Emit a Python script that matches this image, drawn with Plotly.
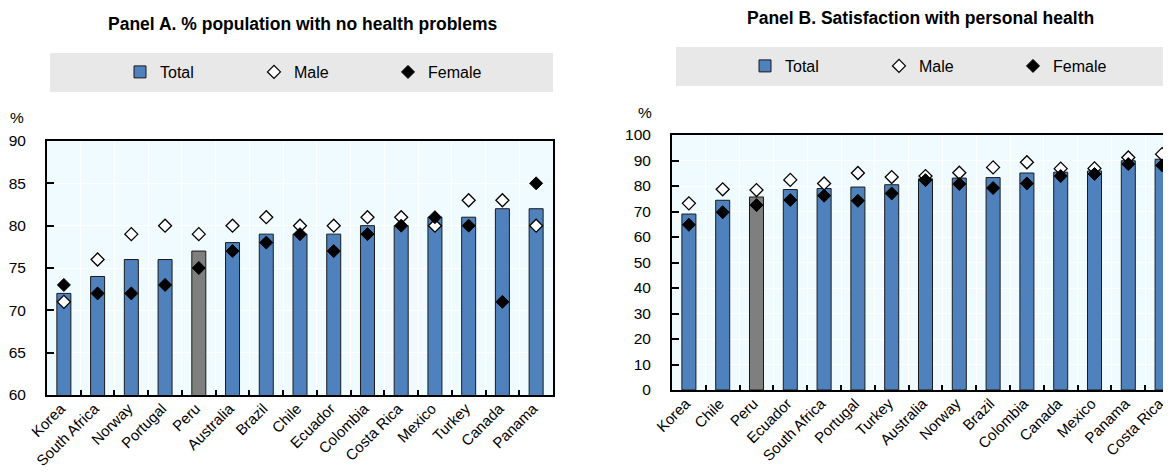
import plotly.graph_objects as go

# ---------------- data ----------------
countries_a = ["Korea", "South Africa", "Norway", "Portugal", "Peru", "Australia", "Brazil",
               "Chile", "Ecuador", "Colombia", "Costa Rica", "Mexico", "Turkey", "Canada", "Panama"]
total_a = [72, 74, 76, 76, 77, 78, 79, 79, 79, 80, 80, 81, 81, 82, 82]
male_a = [71, 76, 79, 80, 79, 80, 81, 80, 80, 81, 81, 80, 83, 83, 80]
female_a = [73, 72, 72, 73, 75, 77, 78, 79, 77, 79, 80, 81, 80, 71, 85]

countries_b = ["Korea", "Chile", "Peru", "Ecuador", "South Africa", "Portugal", "Turkey", "Australia",
               "Norway", "Brazil", "Colombia", "Canada", "Mexico", "Panama", "Costa Rica"]
total_b = [69.0, 74.4, 75.7, 78.6, 79.0, 79.6, 80.5, 82.8, 83.1, 83.3, 85.1, 85.4, 85.9, 89.9, 90.5]
male_b = [73.2, 78.7, 78.4, 82.4, 81.0, 85.1, 83.5, 83.9, 85.2, 87.3, 89.3, 86.8, 86.9, 91.2, 92.5]
female_b = [64.8, 69.7, 72.5, 74.5, 76.2, 74.2, 77.1, 82.3, 80.8, 79.2, 81.0, 83.9, 84.7, 88.6, 88.1]

title_a = "Panel A. % population with no health problems"
title_b = "Panel B. Satisfaction with personal health"
highlight = "Peru"

# ---------------- style ----------------
W, H = 1171, 473
OFF = 8  # page body margin offset
FONT = "Liberation Sans, Arial, sans-serif"
BLUE = "#4F81BD"
GREY = "#7F7F7F"
PLOTBG = "#F0FBFF"


def px_x(p):
    return (p - OFF) / W


def px_y(p):
    return 1 - (p - OFF) / H


fig = go.Figure()


def add_panel(cats, tot, male, fem, xa, ya, legend):
    colors = [GREY if c == highlight else BLUE for c in cats]
    fig.add_trace(go.Bar(x=cats, y=tot, name="Total",
                         marker=dict(color=colors, line=dict(color="#1a1a1a", width=1)),
                         xaxis=xa, yaxis=ya, legend=legend))
    fig.add_trace(go.Scatter(x=cats, y=male, name="Male", mode="markers",
                             marker=dict(symbol="diamond", size=10, color="white",
                                         line=dict(color="black", width=1.3)),
                             xaxis=xa, yaxis=ya, legend=legend))
    fig.add_trace(go.Scatter(x=cats, y=fem, name="Female", mode="markers",
                             marker=dict(symbol="diamond", size=10, color="black",
                                         line=dict(color="black", width=1)),
                             xaxis=xa, yaxis=ya, legend=legend))


add_panel(countries_a, total_a, male_a, female_a, "x", "y", "legend")
add_panel(countries_b, total_b, male_b, female_b, "x2", "y2", "legend2")

axis_common = dict(showline=True, linecolor="black", linewidth=2, gridcolor="white", gridwidth=1,
                   zeroline=False, automargin=False)
xfont = dict(family=FONT, size=15, color="black")
yfont = dict(family=FONT, size=15.5, color="black")
xcommon = dict(type="category", tickson="boundaries", ticks="inside", ticklen=5, tickcolor="black",
               tickwidth=1.5, tickangle=-45, mirror=True, showgrid=True, tickfont=xfont,
               ticklabelstandoff=-3, ticklabelshift=-3)
ycommon = dict(ticks="inside", ticklen=7, tickcolor="black", tickwidth=1.5, showgrid=True,
               ticklabelstandoff=16, tickfont=yfont)

fig.update_layout(
    width=W, height=H,
    margin=dict(l=0, r=0, t=0, b=0, autoexpand=False),
    paper_bgcolor="white",
    plot_bgcolor=PLOTBG,
    bargap=0.585,
    font=dict(family=FONT, color="black"),
    xaxis=dict(domain=[px_x(47), px_x(553)], anchor="y", range=[-0.5, 14.5], **xcommon, **axis_common),
    yaxis=dict(domain=[px_y(395), px_y(141)], anchor="x", range=[60, 90], dtick=5, mirror=True,
               **ycommon, **axis_common),
    xaxis2=dict(domain=[px_x(672), 1.0], anchor="y2", range=[-0.5, 14.5], **xcommon, **axis_common),
    yaxis2=dict(domain=[px_y(390), px_y(135)], anchor="x2", range=[0, 100], dtick=10, mirror=False,
                **ycommon, **axis_common),
    legend=dict(orientation="h", x=px_x(120), xanchor="left", y=px_y(72), yanchor="middle",
                bgcolor="rgba(0,0,0,0)", font=dict(family=FONT, size=16, color="black"),
                entrywidth=89, entrywidthmode="pixels", traceorder="normal"),
    legend2=dict(orientation="h", x=px_x(745), xanchor="left", y=px_y(66), yanchor="middle",
                 bgcolor="rgba(0,0,0,0)", font=dict(family=FONT, size=16, color="black"),
                 entrywidth=89, entrywidthmode="pixels", traceorder="normal"),
    shapes=[
        dict(type="rect", xref="paper", yref="paper", x0=px_x(50), x1=px_x(553), y0=px_y(92), y1=px_y(53),
             fillcolor="#E8E8E8", line=dict(width=0), layer="below"),
        dict(type="rect", xref="paper", yref="paper", x0=px_x(676), x1=1.0, y0=px_y(86), y1=px_y(47),
             fillcolor="#E8E8E8", line=dict(width=0), layer="below"),
    ],
    annotations=[
        dict(text="<b>" + title_a + "</b>", xref="paper", yref="paper", x=px_x(302), y=px_y(24),
             xanchor="center", yanchor="middle", showarrow=False,
             font=dict(family=FONT, size=17.5, color="black")),
        dict(text="<b>" + title_b + "</b>", xref="paper", yref="paper", x=px_x(920), y=px_y(18),
             xanchor="center", yanchor="middle", showarrow=False,
             font=dict(family=FONT, size=17.5, color="black")),
        dict(text="%", xref="paper", yref="paper", x=px_x(17), y=px_y(118), xanchor="center",
             yanchor="middle", showarrow=False, font=dict(family=FONT, size=15.5, color="black")),
        dict(text="%", xref="paper", yref="paper", x=px_x(645), y=px_y(112), xanchor="center",
             yanchor="middle", showarrow=False, font=dict(family=FONT, size=15.5, color="black")),
    ],
)

fig.write_html("out.html")
